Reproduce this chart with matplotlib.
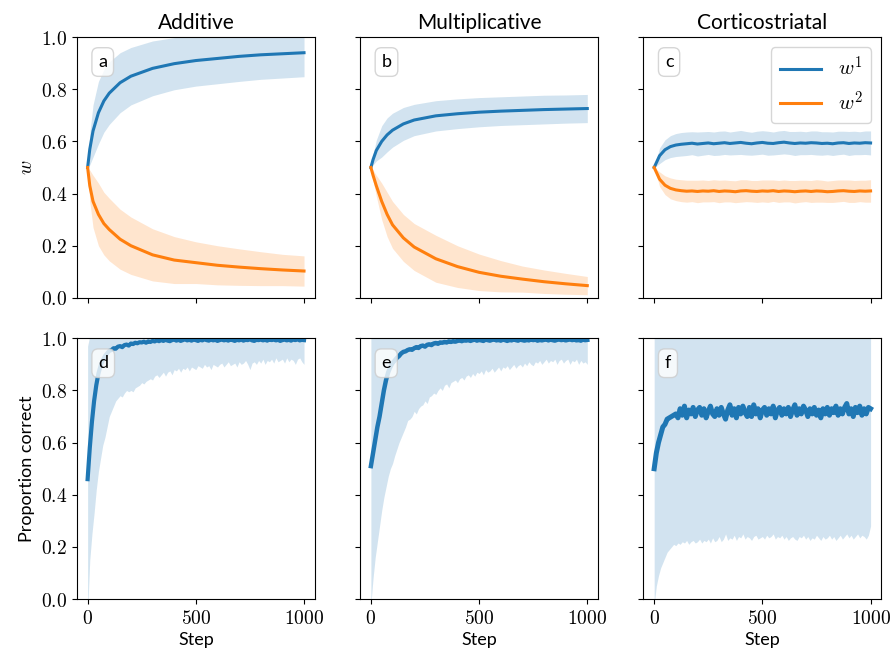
import matplotlib
matplotlib.use("Agg")

import numpy as np
import matplotlib.pyplot as plt
from matplotlib.ticker import FuncFormatter, MultipleLocator

plt.rcParams["font.family"] = ["Lato", "DejaVu Sans"]
plt.rcParams["mathtext.fontset"] = "cm"

# === data: weights (top row) ===
steps_w = [0, 10, 25, 50, 75, 100, 150, 200, 300, 400, 500, 600, 700, 800, 900, 1000]

add_w1 = [0.50, 0.57, 0.64, 0.71, 0.755, 0.785, 0.825, 0.85, 0.88, 0.898, 0.91, 0.918, 0.926, 0.932, 0.936, 0.94]
add_w1_sd = [0.0, 0.06, 0.10, 0.12, 0.12, 0.12, 0.115, 0.11, 0.105, 0.10, 0.098, 0.097, 0.096, 0.094, 0.093, 0.092]
add_w2 = [0.50, 0.43, 0.37, 0.32, 0.285, 0.262, 0.225, 0.20, 0.165, 0.145, 0.135, 0.125, 0.118, 0.112, 0.107, 0.103]
add_w2_sd = [0.0, 0.06, 0.10, 0.12, 0.12, 0.12, 0.115, 0.11, 0.10, 0.09, 0.08, 0.075, 0.07, 0.065, 0.06, 0.058]

mul_w1 = [0.50, 0.53, 0.565, 0.60, 0.625, 0.643, 0.667, 0.682, 0.698, 0.706, 0.712, 0.716, 0.719, 0.722, 0.724, 0.726]
mul_w1_sd = [0.0, 0.02, 0.04, 0.06, 0.065, 0.065, 0.063, 0.06, 0.058, 0.057, 0.056, 0.055, 0.055, 0.055, 0.054, 0.054]
mul_w2 = [0.50, 0.47, 0.43, 0.37, 0.32, 0.28, 0.23, 0.195, 0.15, 0.12, 0.098, 0.083, 0.072, 0.062, 0.054, 0.047]
mul_w2_sd = [0.0, 0.02, 0.04, 0.07, 0.085, 0.09, 0.09, 0.09, 0.09, 0.08, 0.07, 0.06, 0.05, 0.045, 0.04, 0.035]

steps_c = list(range(0, 1001, 25))
cor_w1 = [0.500, 0.545, 0.568, 0.580, 0.586, 0.589, 0.591, 0.593, 0.590, 0.592,
          0.594, 0.591, 0.593, 0.595, 0.592, 0.594, 0.596, 0.593, 0.591, 0.594,
          0.596, 0.593, 0.592, 0.595, 0.597, 0.594, 0.592, 0.594, 0.593, 0.595,
          0.594, 0.592, 0.593, 0.591, 0.594, 0.595, 0.592, 0.594, 0.593, 0.595,
          0.594]
cor_w1_sd = [0.0, 0.030, 0.038, 0.042, 0.044, 0.045, 0.045, 0.044, 0.046, 0.045,
             0.044, 0.045, 0.046, 0.045, 0.044, 0.045, 0.046, 0.045, 0.044, 0.045,
             0.045, 0.046, 0.044, 0.045, 0.045, 0.044, 0.046, 0.045, 0.044, 0.045,
             0.046, 0.045, 0.044, 0.045, 0.045, 0.044, 0.046, 0.045, 0.044, 0.045,
             0.046]
cor_w2 = [0.500, 0.455, 0.432, 0.420, 0.414, 0.411, 0.409, 0.410, 0.408, 0.410,
          0.409, 0.411, 0.408, 0.410, 0.409, 0.407, 0.410, 0.411, 0.409, 0.408,
          0.410, 0.409, 0.411, 0.408, 0.410, 0.409, 0.407, 0.409, 0.410, 0.408,
          0.410, 0.409, 0.407, 0.408, 0.410, 0.411, 0.409, 0.408, 0.410, 0.409,
          0.410]
cor_w2_sd = [0.0, 0.028, 0.036, 0.040, 0.041, 0.042, 0.042, 0.041, 0.043, 0.042,
             0.041, 0.042, 0.043, 0.042, 0.041, 0.042, 0.043, 0.042, 0.041, 0.042,
             0.042, 0.043, 0.041, 0.042, 0.042, 0.041, 0.043, 0.042, 0.041, 0.042,
             0.043, 0.042, 0.041, 0.042, 0.042, 0.041, 0.043, 0.042, 0.041, 0.042,
             0.043]

# === data: proportion correct (bottom row), every 10 steps ===
steps_p = list(range(0, 1001, 10))

add_pc = [0.46, 0.58, 0.68, 0.76, 0.82, 0.865, 0.895, 0.915, 0.932, 0.942,
          0.952, 0.955, 0.962, 0.960, 0.968, 0.970, 0.966, 0.974, 0.976, 0.972,
          0.980, 0.978, 0.983, 0.981, 0.985, 0.984, 0.987, 0.983, 0.988, 0.986,
          0.990, 0.988, 0.992, 0.989, 0.993, 0.990, 0.994, 0.991, 0.989, 0.993,
          0.995, 0.991, 0.994, 0.990, 0.993, 0.996, 0.992, 0.994, 0.991, 0.995,
          0.993, 0.990, 0.994, 0.992, 0.996, 0.993, 0.991, 0.995, 0.992, 0.994,
          0.990, 0.993, 0.995, 0.992, 0.994, 0.991, 0.996, 0.993, 0.990, 0.994,
          0.992, 0.995, 0.991, 0.994, 0.993, 0.996, 0.992, 0.990, 0.994, 0.993,
          0.995, 0.992, 0.994, 0.991, 0.996, 0.993, 0.995, 0.992, 0.994, 0.990,
          0.993, 0.995, 0.992, 0.994, 0.991, 0.995, 0.993, 0.996, 0.992, 0.994,
          0.993]
add_pc_lo = [-0.05, 0.15, 0.25, 0.33, 0.42, 0.49, 0.54, 0.59, 0.62, 0.66,
             0.70, 0.72, 0.74, 0.76, 0.77, 0.78, 0.775, 0.79, 0.80, 0.795,
             0.80, 0.795, 0.81, 0.815, 0.82, 0.83, 0.825, 0.835, 0.84, 0.845,
             0.84, 0.855, 0.86, 0.85, 0.86, 0.87, 0.855, 0.87, 0.875, 0.86,
             0.88, 0.875, 0.885, 0.87, 0.885, 0.88, 0.89, 0.875, 0.89, 0.885,
             0.88, 0.895, 0.89, 0.885, 0.90, 0.89, 0.895, 0.88, 0.90, 0.895,
             0.89, 0.90, 0.905, 0.89, 0.90, 0.91, 0.895, 0.90, 0.905, 0.89,
             0.91, 0.90, 0.905, 0.915, 0.90, 0.88, 0.905, 0.91, 0.90, 0.915,
             0.905, 0.92, 0.90, 0.915, 0.91, 0.92, 0.905, 0.925, 0.91, 0.915,
             0.92, 0.905, 0.925, 0.91, 0.92, 0.915, 0.90, 0.92, 0.925, 0.91,
             0.90]

mul_pc = [0.51, 0.56, 0.61, 0.66, 0.70, 0.75, 0.80, 0.84, 0.87, 0.89,
          0.905, 0.915, 0.925, 0.932, 0.942, 0.948, 0.950, 0.955, 0.958, 0.956,
          0.962, 0.966, 0.963, 0.970, 0.972, 0.968, 0.975, 0.977, 0.974, 0.980,
          0.982, 0.979, 0.984, 0.983, 0.986, 0.984, 0.988, 0.986, 0.989, 0.987,
          0.990, 0.992, 0.989, 0.993, 0.991, 0.994, 0.990, 0.993, 0.995, 0.991,
          0.994, 0.992, 0.990, 0.995, 0.993, 0.991, 0.994, 0.996, 0.992, 0.994,
          0.991, 0.995, 0.993, 0.990, 0.994, 0.992, 0.996, 0.993, 0.991, 0.995,
          0.993, 0.991, 0.994, 0.992, 0.996, 0.993, 0.995, 0.991, 0.994, 0.992,
          0.994, 0.996, 0.992, 0.995, 0.993, 0.991, 0.994, 0.996, 0.993, 0.995,
          0.992, 0.994, 0.996, 0.993, 0.995, 0.992, 0.994, 0.991, 0.995, 0.993,
          0.994]
mul_pc_lo = [-0.02, 0.08, 0.16, 0.22, 0.28, 0.34, 0.39, 0.43, 0.47, 0.50,
             0.52, 0.55, 0.575, 0.60, 0.62, 0.64, 0.66, 0.685, 0.69, 0.70,
             0.72, 0.71, 0.73, 0.74, 0.745, 0.76, 0.75, 0.775, 0.78, 0.79,
             0.785, 0.80, 0.81, 0.80, 0.82, 0.825, 0.81, 0.83, 0.835, 0.84,
             0.83, 0.845, 0.85, 0.84, 0.855, 0.86, 0.85, 0.865, 0.855, 0.87,
             0.865, 0.875, 0.86, 0.88, 0.87, 0.875, 0.885, 0.87, 0.88, 0.89,
             0.875, 0.89, 0.885, 0.895, 0.88, 0.89, 0.90, 0.885, 0.895, 0.90,
             0.89, 0.905, 0.895, 0.91, 0.90, 0.895, 0.91, 0.905, 0.915, 0.90,
             0.91, 0.92, 0.905, 0.915, 0.91, 0.92, 0.90, 0.915, 0.92, 0.905,
             0.915, 0.92, 0.90, 0.915, 0.91, 0.92, 0.90, 0.915, 0.905, 0.91,
             0.90]

cor_pc = [0.50, 0.56, 0.60, 0.63, 0.66, 0.67, 0.69, 0.695, 0.70, 0.705,
          0.71, 0.695, 0.73, 0.705, 0.74, 0.695, 0.725, 0.71, 0.735, 0.70,
          0.725, 0.735, 0.705, 0.73, 0.695, 0.72, 0.74, 0.71, 0.70, 0.73,
          0.705, 0.735, 0.71, 0.69, 0.725, 0.745, 0.705, 0.73, 0.695, 0.735,
          0.71, 0.74, 0.715, 0.70, 0.735, 0.70, 0.745, 0.71, 0.73, 0.695,
          0.725, 0.735, 0.705, 0.73, 0.71, 0.74, 0.695, 0.725, 0.735, 0.705,
          0.73, 0.71, 0.735, 0.70, 0.725, 0.745, 0.705, 0.73, 0.71, 0.74,
          0.725, 0.70, 0.73, 0.71, 0.735, 0.705, 0.725, 0.695, 0.73, 0.71,
          0.735, 0.705, 0.73, 0.715, 0.74, 0.705, 0.73, 0.71, 0.735, 0.75,
          0.71, 0.73, 0.70, 0.735, 0.715, 0.74, 0.705, 0.73, 0.71, 0.735,
          0.73]
cor_pc_lo = [-0.02, 0.05, 0.09, 0.12, 0.14, 0.16, 0.18, 0.19, 0.20, 0.21,
             0.205, 0.215, 0.21, 0.22, 0.215, 0.225, 0.21, 0.22, 0.225, 0.215,
             0.22, 0.23, 0.215, 0.225, 0.22, 0.23, 0.215, 0.235, 0.22, 0.225,
             0.24, 0.22, 0.23, 0.25, 0.225, 0.235, 0.23, 0.245, 0.225, 0.24,
             0.235, 0.25, 0.23, 0.24, 0.235, 0.225, 0.24, 0.245, 0.23, 0.235,
             0.24, 0.23, 0.245, 0.235, 0.24, 0.25, 0.23, 0.24, 0.235, 0.245,
             0.23, 0.24, 0.225, 0.235, 0.24, 0.23, 0.225, 0.24, 0.235, 0.245,
             0.23, 0.24, 0.225, 0.235, 0.23, 0.245, 0.235, 0.225, 0.24, 0.23,
             0.235, 0.245, 0.23, 0.24, 0.225, 0.235, 0.245, 0.23, 0.24, 0.25,
             0.235, 0.245, 0.23, 0.24, 0.25, 0.235, 0.245, 0.24, 0.23, 0.245,
             0.28]

titles = ["Additive", "Multiplicative", "Corticostriatal"]
panel_labels = ["a", "b", "c", "d", "e", "f"]

# === plot ===
fig, axes = plt.subplots(2, 3, figsize=(8.93, 6.62), dpi=100, sharex=True, sharey=True)
fig.subplots_adjust(left=0.086, right=0.987, top=0.944, bottom=0.095, wspace=0.19, hspace=0.155)

top = [
    (steps_w, add_w1, add_w1_sd, add_w2, add_w2_sd),
    (steps_w, mul_w1, mul_w1_sd, mul_w2, mul_w2_sd),
    (steps_c, cor_w1, cor_w1_sd, cor_w2, cor_w2_sd),
]
for ax, (x, m1, s1, m2, s2) in zip(axes[0], top):
    x = np.array(x)
    m1, s1, m2, s2 = map(np.array, (m1, s1, m2, s2))
    ax.fill_between(x, m1 - s1, m1 + s1, color="C0", alpha=0.2, lw=0)
    ax.fill_between(x, m2 - s2, m2 + s2, color="C1", alpha=0.2, lw=0)
    ax.plot(x, m1, color="C0", lw=2.2, label=r"$w^1$")
    ax.plot(x, m2, color="C1", lw=2.2, label=r"$w^2$")

# lines in the bottom row look thick because of step-to-step noise
bottom = [(add_pc, add_pc_lo, 3.0), (mul_pc, mul_pc_lo, 3.2), (cor_pc, cor_pc_lo, 3.6)]
for ax, (m, lo, lw) in zip(axes[1], bottom):
    x = np.array(steps_p)
    m = np.array(m)
    lo = np.array(lo)
    ax.fill_between(x, lo, 2 * m - lo, color="C0", alpha=0.2, lw=0)
    ax.plot(x, m, color="C0", lw=lw)

for ax, t in zip(axes[0], titles):
    ax.set_title(t, fontsize=15, pad=6)

for ax, lab in zip(axes.flat, panel_labels):
    ax.set_ylim(0, 1)
    ax.set_xlim(-50, 1050)
    ax.text(0.09, 0.935, lab, transform=ax.transAxes, ha="left", va="top", fontsize=13,
            zorder=5, bbox=dict(boxstyle="round,pad=0.35", fc="white", ec="0.8", alpha=0.8))

axes[0, 0].xaxis.set_major_locator(MultipleLocator(500))
axes[0, 0].yaxis.set_major_locator(MultipleLocator(0.2))
axes[0, 0].xaxis.set_major_formatter(FuncFormatter(lambda v, p: f"${v:.0f}$"))
axes[0, 0].yaxis.set_major_formatter(FuncFormatter(lambda v, p: f"${v:.1f}$"))
for ax in axes.flat:
    ax.tick_params(labelsize=14)

axes[0, 0].set_ylabel(r"$w$", fontsize=14)
axes[1, 0].set_ylabel("Proportion correct", fontsize=13)
for ax in axes[1]:
    ax.set_xlabel("Step", fontsize=13)

axes[0, 2].legend(loc="upper right", fontsize=15)

plt.savefig("out.png")
